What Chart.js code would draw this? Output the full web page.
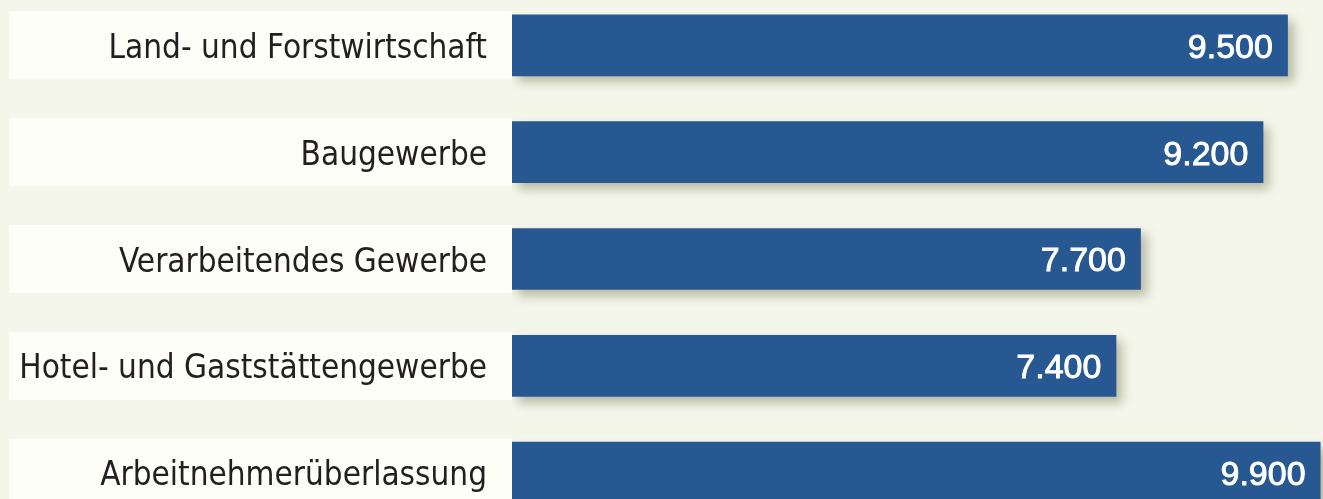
<!DOCTYPE html>
<html>
<head>
<meta charset="utf-8">
<script src="https://cdn.jsdelivr.net/npm/chart.js"></script>
<style>
  html, body { margin: 0; padding: 0; background: #f4f6ea; overflow: hidden; }
  #wrap { position: absolute; left: 0; top: -8px; width: 1323px; height: 534px; }
  #branchenChart { width: 1323px; height: 534px; }
</style>
</head>
<body>
<div id="wrap"><canvas id="branchenChart" width="1323" height="534"></canvas></div>
<script>
// branchen und werte
const branchen = ['Land- und Forstwirtschaft', 'Baugewerbe', 'Verarbeitendes Gewerbe', 'Hotel- und Gaststättengewerbe', 'Arbeitnehmerüberlassung'];
const werte = [9500, 9200, 7700, 7400, 9900];

const bgColor = '#f4f6ea';
const barColor = '#285892';

// hintergrund + weisse kaesten hinter den beschriftungen
const labelBoxes = {
    id: 'labelBoxes',
    beforeDraw(chart) {
        const ctx = chart.ctx;
        const yScale = chart.scales.y;
        ctx.save();
        ctx.fillStyle = bgColor;
        ctx.fillRect(0, 0, chart.width, chart.height);
        ctx.fillStyle = '#fdfef8';
        branchen.forEach((b, i) => {
            let y = yScale.getPixelForValue(i);
            ctx.fillRect(9, y - 34, chart.chartArea.left - 9, 68);
        });
        ctx.restore();
    }
};

// schatten unter den balken und zahlen in den balken
const barShadow = {
    id: 'barShadow',
    beforeDatasetsDraw(chart) {
        const ctx = chart.ctx;
        ctx.save();
        ctx.shadowColor = 'rgba(95, 95, 60, 0.4)';
        ctx.shadowBlur = 10;
        ctx.shadowOffsetX = 6;
        ctx.shadowOffsetY = 6;
    },
    afterDatasetsDraw(chart) {
        const ctx = chart.ctx;
        ctx.restore();
        ctx.save();
        ctx.fillStyle = '#ffffff';
        ctx.strokeStyle = '#ffffff';
        ctx.lineWidth = 0.9;   // etwas kraeftiger als regular
        ctx.font = '34px "Liberation Sans", Arial, sans-serif';
        ctx.textAlign = 'right';
        ctx.textBaseline = 'middle';
        chart.getDatasetMeta(0).data.forEach((bar, i) => {
            let txt = werte[i].toLocaleString('de-DE');
            ctx.fillText(txt, bar.x - 15, bar.y + 3);
            ctx.strokeText(txt, bar.x - 15, bar.y + 3);
        });
        ctx.restore();
    }
};

var ctx = document.getElementById('branchenChart').getContext('2d');
var branchenChart = new Chart(ctx, {
    type: 'bar',
    data: {
        labels: branchen,
        datasets: [{
            data: werte,
            backgroundColor: barColor,
            borderWidth: 0,
            barPercentage: 0.578,
            categoryPercentage: 1.0,
        }]
    },
    options: {
        indexAxis: 'y',
        responsive: false,
        maintainAspectRatio: false,
        animation: false,
        devicePixelRatio: 1,
        layout: { padding: 0 },
        plugins: {
            legend: { display: false },
            tooltip: { enabled: false },
        },
        scales: {
            x: {
                display: false,
                min: 0,
                max: 9930,
            },
            y: {
                afterFit: function(scale) {
                    scale.width = 512;
                    // no extra room above/below for the labels
                    scale.paddingTop = 0;
                    scale.paddingBottom = 0;
                },
                grid: { display: false, drawTicks: false },
                border: { display: false },
                ticks: {
                    color: '#231f20',
                    padding: 25,
                    labelOffset: 4,
                    font: { family: '"DejaVu Sans Condensed", sans-serif', size: 33 },
                },
            },
        },
    },
    plugins: [labelBoxes, barShadow],
});
</script>
</body>
</html>
